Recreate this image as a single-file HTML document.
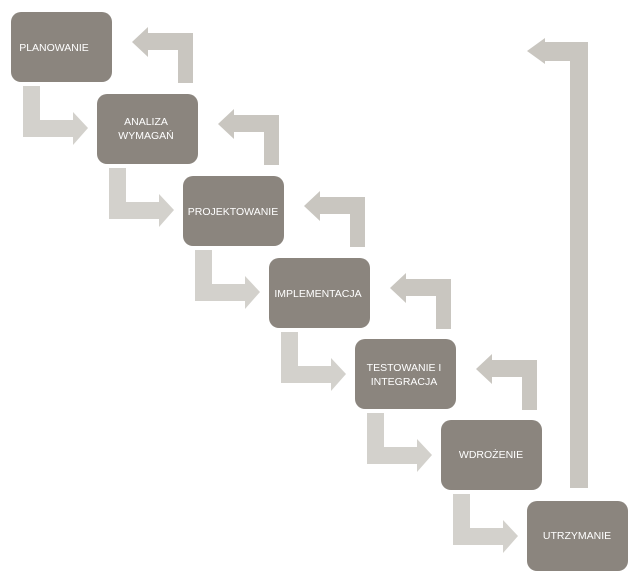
<!DOCTYPE html>
<html><head><meta charset="utf-8"><style>
html,body{margin:0;padding:0;background:#fff;width:639px;height:586px;overflow:hidden}
text{font-family:"Liberation Sans",sans-serif;font-size:10.5px;fill:#fff;text-anchor:middle}
</style></head><body>
<svg width="639" height="586" viewBox="0 0 639 586" xmlns="http://www.w3.org/2000/svg">
<g fill="#d3d1cc">
<!-- down arrows -->
<path d="M23,86H40V120H73V112L88,128L73,145V137H23Z"/>
<path d="M109,168H126V202H159V194L174,210L159,227V219H109Z"/>
<path d="M195,250H212V284H245V276L260,292L245,309V301H195Z"/>
<path d="M281,332H298V366H331V358L346,374L331,391V383H281Z"/>
<path d="M367,413H384V447H417V439L432,455L417,472V464H367Z"/>
<path d="M453,494H470V528H503V520L518,536L503,553V545H453Z"/>
</g>
<g fill="#c9c6c0">
<!-- return arrows -->
<path d="M193,83H178V50H148V57L132,42L148,27V33H193Z"/>
<path d="M279,165H264V132H234V139L218,124L234,109V115H279Z"/>
<path d="M365,247H350V214H320V221L304,206L320,191V197H365Z"/>
<path d="M451,329H436V296H406V303L390,288L406,273V279H451Z"/>
<path d="M537,410H522V377H492V384L476,369L492,354V360H537Z"/>
<path d="M588,488H570V61H545V64L527,51L545,38V42H588Z"/>
</g>
<g fill="#8b857e">
<rect x="11" y="12" width="101" height="70" rx="10"/>
<rect x="97" y="94" width="101" height="70" rx="10"/>
<rect x="183" y="176" width="101" height="70" rx="10"/>
<rect x="269" y="258" width="101" height="70" rx="10"/>
<rect x="355" y="339" width="101" height="70" rx="10"/>
<rect x="441" y="420" width="101" height="70" rx="10"/>
<rect x="527" y="501" width="101" height="70" rx="10"/>
</g>
<text x="54" y="51">PLANOWANIE</text>
<text x="146" y="125">ANALIZA</text>
<text x="146" y="139">WYMAGAŃ</text>
<text x="233" y="215">PROJEKTOWANIE</text>
<text x="318" y="297">IMPLEMENTACJA</text>
<text x="404" y="371">TESTOWANIE I</text>
<text x="404" y="385">INTEGRACJA</text>
<text x="491" y="458">WDROŻENIE</text>
<text x="577" y="539">UTRZYMANIE</text>
</svg>
</body></html>
